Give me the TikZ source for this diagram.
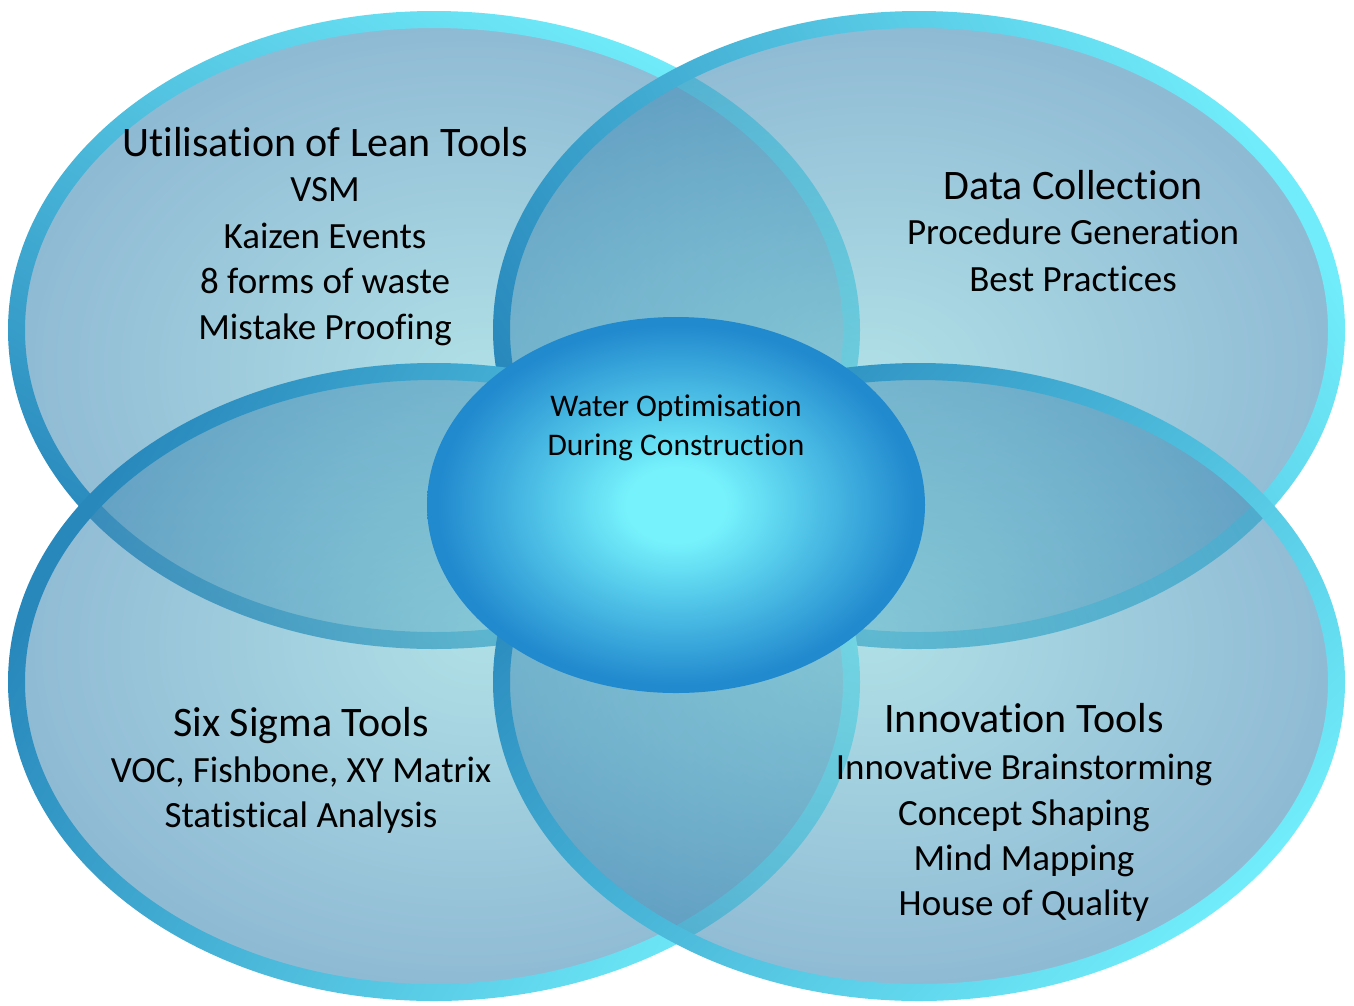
\documentclass[tikz,border=0pt]{standalone}
\usepackage{fontspec}
\setmainfont{Carlito}[Ligatures=NoCommon]
\definecolor{lobeIn}{RGB}{121,202,213}
\definecolor{lobeOut}{RGB}{65,138,182}
\definecolor{rimLight}{RGB}{112,236,250}
\definecolor{rimDark}{RGB}{40,136,188}
\definecolor{coreIn}{RGB}{118,242,252}
\definecolor{coreOut}{RGB}{33,137,206}
% lighter middle of each lobe sits towards the centre of the figure
\pgfdeclareradialshading{lobeTL}{\pgfpoint{3bp}{-4bp}}{color(0bp)=(lobeIn); color(27bp)=(lobeOut); color(80bp)=(lobeOut)}
\pgfdeclareradialshading{lobeTR}{\pgfpoint{-3bp}{-4bp}}{color(0bp)=(lobeIn); color(27bp)=(lobeOut); color(80bp)=(lobeOut)}
\pgfdeclareradialshading{lobeBL}{\pgfpoint{3bp}{4bp}}{color(0bp)=(lobeIn); color(27bp)=(lobeOut); color(80bp)=(lobeOut)}
\pgfdeclareradialshading{lobeBR}{\pgfpoint{-3bp}{4bp}}{color(0bp)=(lobeIn); color(27bp)=(lobeOut); color(80bp)=(lobeOut)}
\pgfdeclareradialshading{coreGlow}{\pgfpoint{0bp}{0bp}}{color(0bp)=(coreIn); color(5bp)=(coreIn); color(24bp)=(coreOut); color(50bp)=(coreOut)}
\tikzset{
  lobe/.style={fill opacity=0.59},
  rim/.style={even odd rule, top color=rimLight, bottom color=rimDark},
  head/.style={font=\fontsize{42}{50}\selectfont, text height=27pt, text depth=0pt, inner sep=0pt},
  item/.style={font=\fontsize{37}{45}\selectfont, text height=23.8pt, text depth=0pt, inner sep=0pt},
  coretext/.style={font=\fontsize{31.5}{39}\selectfont, align=center, inner sep=0pt}
}
\begin{document}
\begin{tikzpicture}[x=1pt,y=-1pt]
	\useasboundingbox (0,0) rectangle (1354,1005);
	\coordinate (tl) at (434,330);
	\coordinate (tr) at (919,330);
	\coordinate (bl) at (434,682);
	\coordinate (br) at (919,682);
	\coordinate (mid) at (676,505);
	% Top left lobe
	\shade[lobe,shading=lobeTL] (tl) ellipse [x radius=418, y radius=311];
	\shade[rim,shading angle=-30] (tl) ellipse [x radius=426, y radius=319] (tl) ellipse [x radius=409, y radius=302];
	% Top right lobe
	\shade[lobe,shading=lobeTR] (tr) ellipse [x radius=418, y radius=311];
	\shade[rim,shading angle=-60] (tr) ellipse [x radius=426, y radius=319] (tr) ellipse [x radius=409, y radius=302];
	% Bottom left lobe
	\shade[lobe,shading=lobeBL] (bl) ellipse [x radius=418, y radius=311];
	\shade[rim,shading angle=-120] (bl) ellipse [x radius=426, y radius=319] (bl) ellipse [x radius=409, y radius=302];
	% Bottom right lobe
	\shade[lobe,shading=lobeBR] (br) ellipse [x radius=418, y radius=311];
	\shade[rim,shading angle=-135] (br) ellipse [x radius=426, y radius=319] (br) ellipse [x radius=409, y radius=302];
	% Centre
	\shade[shading=coreGlow] (mid) ellipse [x radius=249, y radius=188];
	\node[coretext] (goal) at (676,428) {Water Optimisation\\During Construction};
	% Lean tools
	\node[head] (leanHead) at (325,143) {Utilisation of Lean Tools};
	\node[item] (lean1) at (325,190) {VSM};
	\node[item] (lean2) at (325,237) {Kaizen Events};
	\node[item] (lean3) at (325,282) {8 forms of waste};
	\node[item] (lean4) at (325,328) {Mistake Proofing};
	% Data collection
	\node[head] (dataHead) at (1073,186) {Data Collection};
	\node[item] (data1) at (1073,233) {Procedure Generation};
	\node[item] (data2) at (1073,280) {Best Practices};
	% Six sigma
	\node[head] (sigmaHead) at (301,723) {Six Sigma Tools};
	\node[item] (sigma1) at (301,771) {VOC, Fishbone, XY Matrix};
	\node[item] (sigma2) at (301,816) {Statistical Analysis};
	% Innovation
	\node[head] (innoHead) at (1024,719) {Innovation Tools};
	\node[item] (inno1) at (1024,768) {Innovative Brainstorming};
	\node[item] (inno2) at (1024,814) {Concept Shaping};
	\node[item] (inno3) at (1024,859) {Mind Mapping};
	\node[item] (inno4) at (1024,904) {House of Quality};
\end{tikzpicture}
\end{document}
